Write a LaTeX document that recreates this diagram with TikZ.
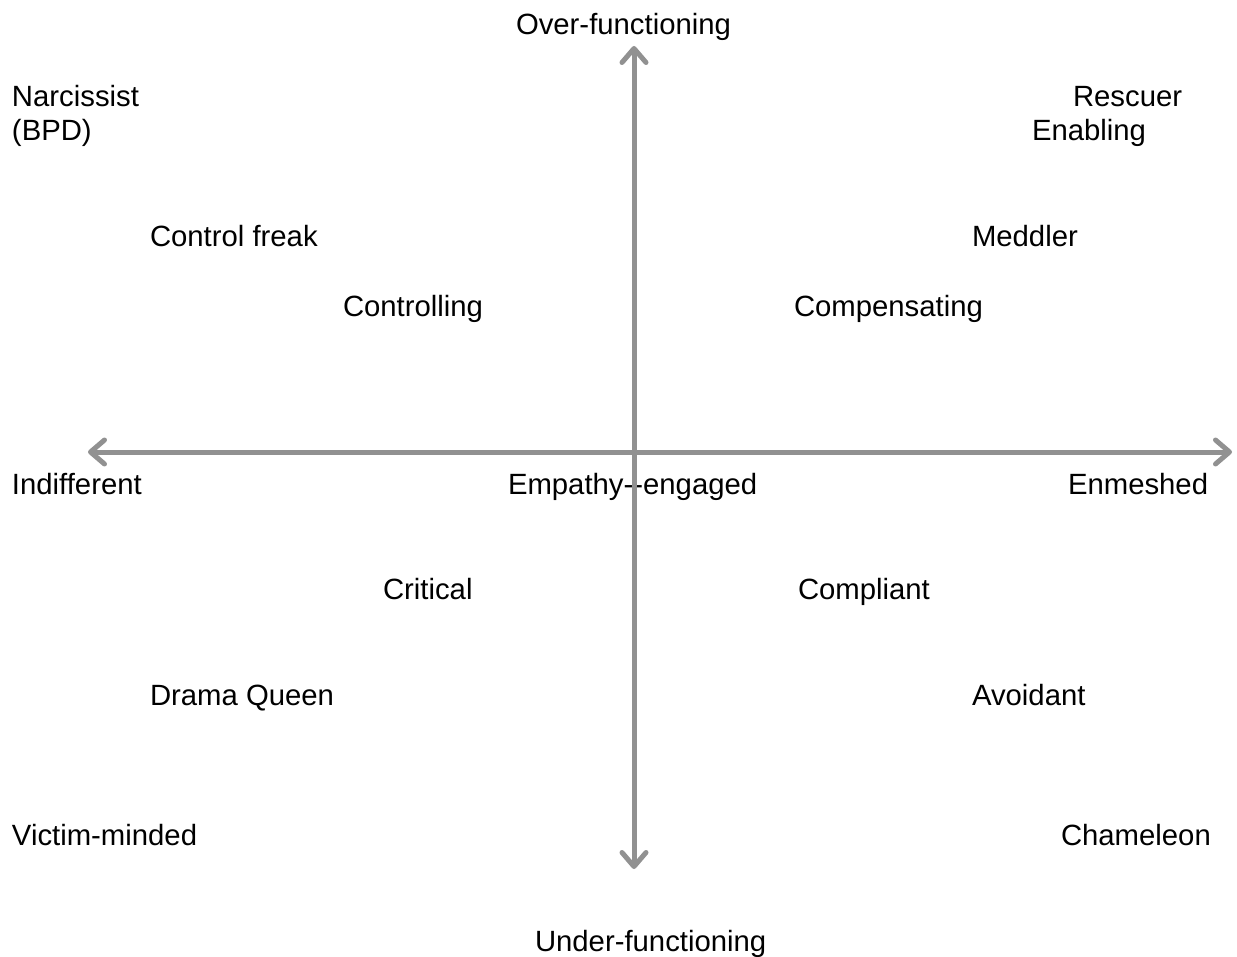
\documentclass[tikz,border=0pt]{standalone}
\usepackage{fontspec}
\setmainfont{Liberation Sans}
\usetikzlibrary{arrows.meta}
\definecolor{axisgray}{RGB}{145,145,145}
\tikzset{
  lbl/.style={anchor=base west, inner sep=0pt, outer sep=0pt, font=\fontsize{29.3}{35}\selectfont, text=black},
  barb/.tip={Straight Barb[length=14pt,width=24pt,line cap=round,line join=round]},
  axis/.style={draw=axisgray, line width=5pt, line cap=round, barb-barb}
}
\begin{document}
\begin{tikzpicture}[x=1pt,y=-1pt]
\useasboundingbox (0,0) rectangle (1237,957);
% labels
\node[lbl] (over) at (516,35) {Over-functioning};
\node[lbl] (narc) at (12,107) {Narcissist};
\node[lbl] (bpd) at (12,141) {(BPD)};
\node[lbl] (resc) at (1073,107) {Rescuer};
\node[lbl] (enab) at (1032,141) {Enabling};
\node[lbl] (cfreak) at (150,247) {Control freak};
\node[lbl] (medd) at (972,247) {Meddler};
\node[lbl] (ctrl) at (343,317) {Controlling};
\node[lbl] (comp) at (794,317) {Compensating};
\node[lbl] (indiff) at (12,494) {Indifferent};
\node[lbl] (emp) at (508,494) {Empathy-{}-engaged};
\node[lbl] (enm) at (1068,494) {Enmeshed};
\node[lbl] (crit) at (383,599) {Critical};
\node[lbl] (compl) at (798,599) {Compliant};
\node[lbl] (drama) at (150,705) {Drama Queen};
\node[lbl] (avoid) at (972,705) {Avoidant};
\node[lbl] (vict) at (12,845) {Victim-minded};
\node[lbl] (cham) at (1061,845) {Chameleon};
\node[lbl] (under) at (535,951) {Under-functioning};
% axes
\coordinate (L) at (88,452);
\coordinate (R) at (1232,452);
\coordinate (T) at (634,46);
\coordinate (B) at (634,869);
\draw[axis] (L) -- (R);
\draw[axis] (B) -- (T);
\end{tikzpicture}
\end{document}
